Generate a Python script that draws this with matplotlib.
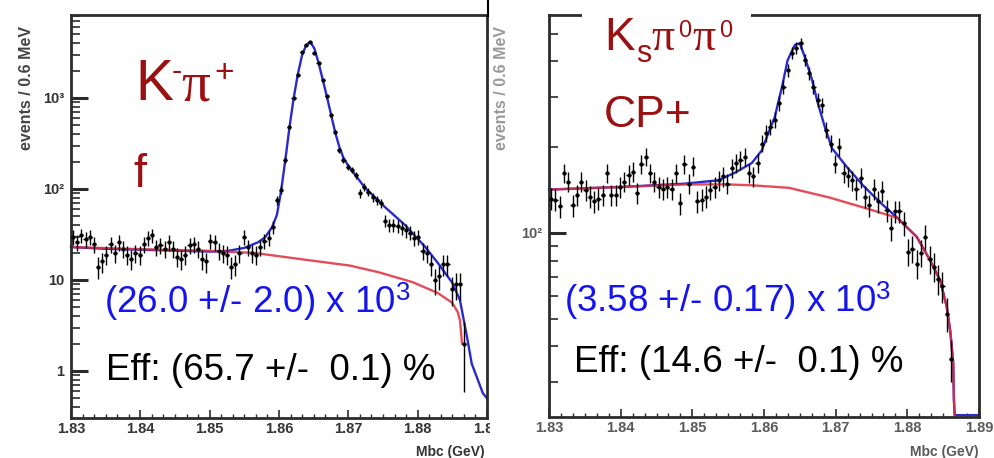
import numpy as np
import matplotlib
matplotlib.use("Agg")
import matplotlib.pyplot as plt
from matplotlib import font_manager
from matplotlib.ticker import FixedLocator, LogLocator, NullFormatter, AutoMinorLocator
from matplotlib.transforms import Bbox, TransformedBbox
from matplotlib.lines import Line2D
from matplotlib.patches import Rectangle

# ======================
# DATA
# ======================

# Mbc histogram: 100 bins of 0.6 MeV between 1.83 and 1.89 GeV
bin_edges = np.linspace(1.83, 1.89, 101)
bin_centers = 0.5 * (bin_edges[:-1] + bin_edges[1:])

# D0 -> K- pi+ (flavour tag)
kpi_counts = [
    30, 26, 31, 28, 30, 25, 14, 16, 19, 25,
    20, 26, 22, 19, 17, 20, 19, 25, 29, 31,
    23, 24, 22, 26, 22, 18, 17, 19, 24, 25,
    22, 17, 16, 27, 26, 21, 20, 19, 14, 15,
    20, 30, 23, 20, 19, 23, 27, 29, 38, 75,
    97, 208, 480, 1000, 1800, 3200, 3800, 4100, 3100, 2400,
    1580, 1040, 650, 420, 265, 208, 175, 161, 142, 90,
    105, 93, 81, 75, 70, 45, 40, 40, 39, 37,
    35, 33, 29, 30, 21, 20, 15, 10, 11, 15,
    15, 8, 9, 9, 2, 0, 0, 0, 0, 0,
]
kpi_fit_x = [1.8300, 1.8350, 1.8400, 1.8450, 1.8500, 1.8525, 1.8550, 1.8570,
             1.8580, 1.8590, 1.8597, 1.8603, 1.8609, 1.8615, 1.8621, 1.8627,
             1.8633, 1.8639, 1.8645, 1.8651, 1.8657, 1.8663, 1.8669, 1.8675,
             1.8681, 1.8687, 1.8693, 1.8699, 1.8705, 1.8724, 1.8753, 1.8782,
             1.8811, 1.8829, 1.8850, 1.8861, 1.8871, 1.8878, 1.8894, 1.8900]
kpi_fit_y = [23, 22, 21.5, 21, 20.5, 20.8, 22.5, 26,
             29.5, 38, 52, 95, 205, 470, 980, 1800,
             2900, 3800, 4150, 3500, 2450, 1600, 1040, 660,
             420, 290, 220, 185, 160, 103, 63, 40,
             23, 15.4, 9.3, 6.0, 2.4, 1.2, 0.57, 0.5]
kpi_bkg_x = [1.8300, 1.8400, 1.8493, 1.8565, 1.8630, 1.8702, 1.8743,
             1.8792, 1.8829, 1.8850, 1.8858, 1.8861, 1.8864]
kpi_bkg_y = [23, 21.8, 21.0, 19.8, 17.0, 14.4, 12.2,
             9.5, 7.2, 5.6, 4.4, 3.6, 2.0]

# D0 -> Ks pi0 pi0 (CP+ tag)
kspp_counts = [
    132, 131, 124, 162, 151, 125, 136, 151, 141, 134,
    129, 132, 136, 162, 136, 136, 145, 151, 160, 164,
    138, 174, 185, 162, 151, 145, 143, 145, 143, 162,
    127, 174, 149, 171, 129, 131, 134, 142, 145, 153,
    158, 149, 169, 176, 180, 185, 162, 158, 176, 206,
    224, 236, 249, 285, 326, 373, 427, 445, 463, 405,
    363, 326, 293, 281, 230, 206, 175, 201, 162, 158,
    153, 143, 156, 134, 125, 143, 129, 140, 120, 104,
    119, 119, 108, 86, 88, 78, 85, 97, 81, 76,
    69, 65, 52, 36, 0, 0, 0, 0, 0, 0,
]
kspp_fit_x = [1.8300, 1.8400, 1.8490, 1.8536, 1.8560, 1.8583, 1.8597, 1.8606,
              1.8615, 1.8625, 1.8633, 1.8643, 1.8650, 1.8657, 1.8667, 1.8675,
              1.8685, 1.8695, 1.8716, 1.8738, 1.8762, 1.8786, 1.8813, 1.8832,
              1.8846, 1.8855, 1.8860, 1.8864, 1.8865, 1.8866, 1.8900]
kspp_fit_y = [142, 145, 149, 153, 163, 176, 195, 224,
              255, 325, 404, 457, 463, 414, 345, 286,
              235, 198, 170, 147, 128, 113, 97, 80,
              68, 55, 45, 35, 26, 0, 0]
kspp_bkg_x = [1.8300, 1.8400, 1.8490, 1.8550, 1.8583, 1.8635, 1.8692, 1.8738,
              1.8786, 1.8813, 1.8832, 1.8846, 1.8855, 1.8860, 1.8864, 1.8865, 1.8866]
kspp_bkg_y = [142, 145, 148, 148, 147, 144, 133, 123,
              113, 97, 80, 68, 55, 45, 35, 26, 0]

x_ticks = [1.83, 1.84, 1.85, 1.86, 1.87, 1.88, 1.89]
x_tick_labels = ["1.83", "1.84", "1.85", "1.86", "1.87", "1.88", "1.89"]
kpi_y_ticks = [1, 10, 100, 1000]
kpi_y_tick_labels = ["1", "10", "10²", "10³"]
kspp_y_ticks = [100]
kspp_y_tick_labels = ["10²"]

# ======================
# STYLE
# ======================
W, H = 994, 458

available = {f.name for f in font_manager.fontManager.ttflist}
narrow = "Liberation Sans Narrow" if "Liberation Sans Narrow" in available else "Liberation Sans"

plt.rcParams["font.family"] = ["Liberation Sans", "DejaVu Sans"]
plt.rcParams["mathtext.fontset"] = "custom"
plt.rcParams["mathtext.rm"] = "Liberation Sans"
plt.rcParams["mathtext.it"] = "Liberation Serif"
plt.rcParams["mathtext.bf"] = "Liberation Sans:bold"

DARK_RED = "#9b1010"
BLUE_TXT = "#1414f0"
FIT_BLUE = "#2a2acc"
BKG_RED = "#e02c3c"
FRAME = "#2b2b2b"


def fx(x):
    return x / W


def fy(y):
    return 1 - y / H


def draw_panel(ax, counts, fit_x, fit_y, bkg_x, bkg_y, ylim, y_ticks, y_labels, label_color):
    counts = np.asarray(counts, dtype=float)
    filled = counts > 0
    # anything below the frame is drawn along its bottom edge
    floor = ylim[0] * 1.015

    ax.plot(fit_x, np.maximum(fit_y, floor), color=FIT_BLUE, lw=1.7, zorder=2,
            clip_on=False)
    ax.plot(bkg_x, np.maximum(bkg_y, floor), color=BKG_RED, lw=1.7, alpha=0.85, zorder=2.5)
    ax.errorbar(bin_centers[filled], counts[filled], yerr=np.sqrt(counts[filled]),
                xerr=0.0003, fmt="o", ms=2.0, color="black", elinewidth=1.0,
                capsize=0, zorder=3)

    ax.set_yscale("log")
    ax.set_xlim(1.83, 1.89)
    ax.set_ylim(*ylim)

    ax.xaxis.set_major_locator(FixedLocator(x_ticks))
    ax.set_xticklabels(x_tick_labels)
    ax.xaxis.set_minor_locator(AutoMinorLocator(6))
    ax.yaxis.set_major_locator(FixedLocator(y_ticks))
    ax.set_yticklabels(y_labels)
    ax.yaxis.set_minor_locator(LogLocator(base=10, subs=np.arange(2, 10)))
    ax.yaxis.set_minor_formatter(NullFormatter())

    ax.tick_params(axis="both", which="both", direction="in", top=False, right=False,
                   color=FRAME)
    ax.tick_params(axis="x", which="major", length=6, width=1.2, pad=3)
    ax.tick_params(axis="x", which="minor", length=3, width=1.0)
    ax.tick_params(axis="y", which="major", length=12, width=2.2, pad=5)
    ax.tick_params(axis="y", which="minor", length=6.5, width=1.2)

    for lbl in ax.get_xticklabels() + ax.get_yticklabels():
        lbl.set_fontfamily(narrow)
        lbl.set_fontsize(10.5)
        lbl.set_fontweight("bold")
        lbl.set_color(label_color)

    for s in ax.spines.values():
        s.set_linewidth(2)
        s.set_color(FRAME)


def put(x, y, s, size, color, family="Liberation Sans"):
    fig.text(fx(x), fy(y), s, fontsize=size, color=color, family=family,
             ha="left", va="baseline", zorder=6)


fig = plt.figure(figsize=(W / 100, H / 100), dpi=100)
ax1 = fig.add_axes([fx(71), fy(418), (487 - 71) / W, (418 - 15) / H])
ax2 = fig.add_axes([fx(549), fy(417), (979 - 549) / W, (417 - 15) / H])

draw_panel(ax1, kpi_counts, kpi_fit_x, kpi_fit_y, kpi_bkg_x, kpi_bkg_y,
           (0.304, 8170), kpi_y_ticks, kpi_y_tick_labels, "#333333")
draw_panel(ax2, kspp_counts, kspp_fit_x, kspp_fit_y, kspp_bkg_x, kspp_bkg_y,
           (22.6, 582), kspp_y_ticks, kspp_y_tick_labels, "#5a5a5a")

# axis titles
fig.text(fx(27), fy(88), "events / 0.6 MeV", rotation=90, ha="center", va="center",
         fontsize=11.5, fontweight="bold", color="#444444")
fig.text(fx(501), fy(88), "events / 0.6 MeV", rotation=90, ha="center", va="center",
         fontsize=11.5, fontweight="bold", color="#999999")
fig.text(fx(485), fy(445), "Mbc (GeV)", ha="right", va="top", fontsize=10,
         fontweight="bold", family=narrow, color="#333333")
fig.text(fx(979), fy(445), "Mbc (GeV)", ha="right", va="top", fontsize=10,
         fontweight="bold", family=narrow, color="#5a5a5a")

# the left picture is cut off just right of its frame
clip = TransformedBbox(Bbox([[0, 0], [fx(490), 1]]), fig.transFigure)
for t in ax1.get_xticklabels():
    t.set_clip_box(clip)
    t.set_clip_on(True)
fig.lines.append(Line2D([fx(488), fx(488)], [1, fy(16)], transform=fig.transFigure,
                        color="black", lw=1.5))

# white label box over the top frame of the right panel
fig.patches.append(Rectangle((fx(582), fy(24)), (751 - 582) / W, 24 / H,
                             transform=fig.transFigure, facecolor="white",
                             edgecolor="none", zorder=5))

# ======================
# ANNOTATIONS
# ======================
# K- pi+ , f
put(135, 100, "K", 41, DARK_RED)
put(172, 80, "-", 22, DARK_RED)
put(181, 100, "π", 41, DARK_RED, family="Liberation Serif")
put(214, 82, "+", 24, DARK_RED)
put(133, 187, "f", 34, DARK_RED)
put(104, 313, r"(26.0 +/- 2.0) x 10$^{3}$", 26.5, BLUE_TXT)
put(106, 380, "Eff: (65.7 +/-  0.1) %", 26.5, "black")

# Ks pi0 pi0 , CP+
put(604, 50, "K", 33, DARK_RED)
put(636, 62, "s", 22, DARK_RED)
put(651, 50, "π", 33, DARK_RED, family="Liberation Serif")
put(678, 37, "0", 17, DARK_RED)
put(692, 50, "π", 33, DARK_RED, family="Liberation Serif")
put(719, 37, "0", 17, DARK_RED)
put(604, 127, "CP+", 32, DARK_RED)
put(564, 312, r"(3.58 +/- 0.17) x 10$^{3}$", 26.5, BLUE_TXT)
put(574, 372, "Eff: (14.6 +/-  0.1) %", 26.5, "black")

fig.savefig("out.png", dpi=100)
plt.close(fig)
